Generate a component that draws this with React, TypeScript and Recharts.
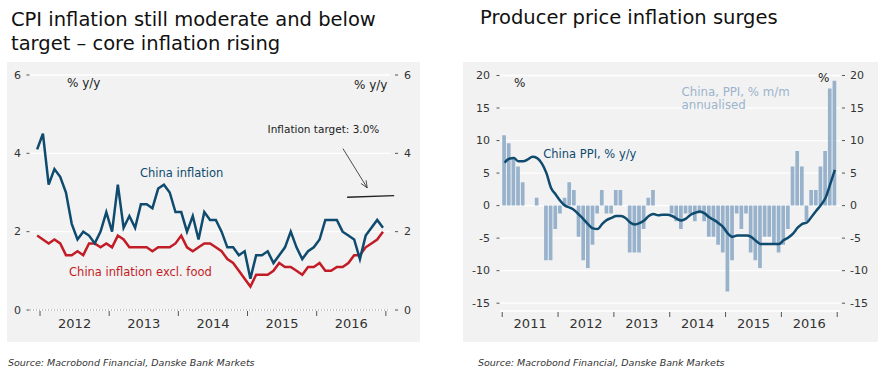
import React from 'react'
import { ComposedChart, Line, Bar, XAxis, YAxis, CartesianGrid, ReferenceLine, ReferenceDot } from 'recharts'

const FONT = '"DejaVu Sans", sans-serif'
const BLUE = '#0f4a6f'
const RED = '#c21c26'
const BAR = '#98b2cc'
const BAR_TEXT = '#9bb4cc'
const BG = '#f2f2f2'
const INK = '#333'

// CPI, % y/y, monthly from Dec 2011 to Dec 2016
const cpiStart = { year: 2011, month: 12 }
const cpiHeadline = [
  4.1,
  4.5, 3.2, 3.6, 3.4, 3.0, 2.2, 1.8, 2.0, 1.9, 1.7, 2.0, 2.5,
  2.0, 3.2, 2.1, 2.4, 2.1, 2.7, 2.7, 2.6, 3.1, 3.2, 3.0, 2.5,
  2.5, 2.0, 2.4, 1.8, 2.5, 2.3, 2.3, 2.0, 1.6, 1.6, 1.4, 1.5,
  0.8, 1.4, 1.4, 1.5, 1.2, 1.4, 1.6, 2.0, 1.6, 1.3, 1.5, 1.6,
  1.8, 2.3, 2.3, 2.3, 2.0, 1.9, 1.8, 1.3, 1.9, 2.1, 2.3, 2.1,
]
const cpiExFood = [
  1.9,
  1.8, 1.7, 1.8, 1.7, 1.4, 1.4, 1.5, 1.4, 1.7, 1.7, 1.6, 1.7,
  1.6, 1.9, 1.8, 1.6, 1.6, 1.6, 1.6, 1.5, 1.6, 1.6, 1.6, 1.7,
  1.9, 1.6, 1.5, 1.6, 1.7, 1.7, 1.6, 1.5, 1.3, 1.2, 1.0, 0.8,
  0.6, 0.9, 0.9, 0.9, 1.0, 1.2, 1.1, 1.1, 1.0, 0.9, 1.1, 1.1,
  1.2, 1.0, 1.0, 1.1, 1.1, 1.2, 1.4, 1.4, 1.6, 1.7, 1.8, 2.0,
]
const cpiYears = [2012, 2013, 2014, 2015, 2016]
const cpiTicks = [0, 2, 4, 6]

// PPI, monthly from Jan 2011 to Dec 2016
const ppiStart = { year: 2011, month: 1 }
const ppiYoy = [
  6.6, 7.2, 7.3, 6.8, 6.8, 7.1, 7.5, 7.3, 6.5, 5.0, 2.7, 1.7,
  0.7, 0.0, -0.3, -0.7, -1.4, -2.1, -2.9, -3.5, -3.6, -2.8, -2.2, -1.9,
  -1.6, -1.6, -1.9, -2.6, -2.9, -2.7, -2.3, -1.6, -1.3, -1.5, -1.4, -1.4,
  -1.6, -2.0, -2.3, -2.0, -1.4, -1.1, -0.9, -1.2, -1.8, -2.2, -2.7, -3.3,
  -4.3, -4.8, -4.6, -4.6, -4.6, -4.8, -5.4, -5.9, -5.9, -5.9, -5.9, -5.9,
  -5.3, -4.9, -4.3, -3.4, -2.8, -2.6, -1.7, -0.8, 0.1, 1.2, 3.3, 5.5,
]
const ppiMomAnnualised = [
  10.8, 9.6, 7.2, 6.0, 3.6, 0, 0, 1.2, 0, -8.4, -8.4, -3.6,
  -1.2, 1.2, 3.6, 2.4, -4.8, -8.4, -9.6, -6.0, -1.2, 2.4, -1.2, -1.2,
  2.4, 2.4, 0, -7.2, -7.2, -7.2, -3.6, 1.2, 2.4, 0, 0, 0,
  -1.2, -2.4, -3.6, -1.2, -1.2, -2.4, -1.2, -2.4, -4.8, -4.8, -6.0, -7.2,
  -13.2, -8.4, -1.2, -3.6, -1.2, -7.2, -8.4, -9.6, -4.8, -4.8, -6.0, -7.2,
  -6.0, -3.6, 6.0, 8.4, 6.0, -2.4, 2.4, 2.4, 6.0, 8.4, 18.0, 19.2,
]
const ppiYears = [2011, 2012, 2013, 2014, 2015, 2016]
const ppiTicks = [-15, -10, -5, 0, 5, 10, 15, 20]

// month -> decimal year, plotted mid-month
const monthPos = (start: { year: number; month: number }, i: number) =>
  start.year + (start.month - 1 + i + 0.5) / 12

const cpiData = cpiHeadline.map((v, i) => ({ t: monthPos(cpiStart, i), cpi: v, core: cpiExFood[i] }))
const ppiData = ppiYoy.map((v, i) => ({ t: monthPos(ppiStart, i), yoy: v, mom: ppiMomAnnualised[i] }))

// year boundaries get a tick mark, mid-years get the label
const yearTicks = (years: number[]) => {
  const out: number[] = []
  years.forEach(y => out.push(y, y + 0.5))
  out.push(years[years.length - 1] + 1)
  return out
}

const YearTick = (offset: number) => (props: any) => {
  const { x, y, payload } = props
  const v = payload.value
  if (Number.isInteger(v)) {
    return <line x1={x} x2={x} y1={y + 1} y2={y + 6} stroke="#555" strokeWidth={1} />
  }
  return (
    <text x={x} y={y + offset} textAnchor="middle" dominantBaseline="central" fontSize={13} fill={INK} fontFamily={FONT}>
      {Math.floor(v)}
    </text>
  )
}

const LeftTick = (gap: number) => (props: any) => {
  const { x, y, payload } = props
  return (
    <g>
      <text x={x - gap} y={y} textAnchor="end" dominantBaseline="central" fontSize={11} fill={INK} fontFamily={FONT}>
        {payload.value}
      </text>
      <line x1={x - 3.5} x2={x - 0.5} y1={y} y2={y} stroke="#555" />
    </g>
  )
}

const RightTick = (dash: number, gap: number) => (props: any) => {
  const { x, y, payload } = props
  return (
    <g>
      <line x1={x + dash} x2={x + dash + 3} y1={y} y2={y} stroke="#555" />
      <text x={x + gap} y={y} textAnchor="start" dominantBaseline="central" fontSize={11} fill={INK} fontFamily={FONT}>
        {payload.value}
      </text>
    </g>
  )
}

const textAt = (lines: string[], color: string, size = 11.5) => (p: any) => (
  <text x={p.cx} y={p.cy} fill={color} fontSize={size} fontFamily={FONT} dominantBaseline="central">
    {lines.map((l, i) => (
      <tspan key={i} x={p.cx} dy={i === 0 ? 0 : 13}>{l}</tspan>
    ))}
  </text>
)

const Arrow = (p: any) => {
  const { x1, y1, x2, y2 } = p
  const a = Math.atan2(y2 - y1, x2 - x1)
  const L = 7
  const W = 3
  const b1x = x2 - L * Math.cos(a) + W * Math.sin(a)
  const b1y = y2 - L * Math.sin(a) - W * Math.cos(a)
  const b2x = x2 - L * Math.cos(a) - W * Math.sin(a)
  const b2y = y2 - L * Math.sin(a) + W * Math.cos(a)
  return (
    <g>
      <line x1={x1} y1={y1} x2={x2} y2={y2} stroke="#222" strokeWidth={0.8} />
      <polyline points={`${b1x},${b1y} ${x2},${y2} ${b2x},${b2y}`} fill="none" stroke="#222" strokeWidth={0.8} />
    </g>
  )
}

function CpiChart() {
  return (
    <ComposedChart width={413} height={280} data={cpiData} margin={{ top: 13, right: 0, bottom: 0, left: 0 }}>
      <CartesianGrid horizontal vertical={false} stroke="#ffffff" strokeWidth={1.3} yAxisId="left" />
      <XAxis
        dataKey="t"
        type="number"
        domain={[2011.855, 2017.06]}
        allowDataOverflow
        ticks={yearTicks(cpiYears)}
        interval={0}
        tickSize={0}
        tickMargin={0}
        tick={YearTick(13)}
        height={32}
        axisLine={{ stroke: '#888', strokeDasharray: '1 2' }}
      />
      <YAxis yAxisId="left" domain={[0, 6]} ticks={cpiTicks} width={23} axisLine={false} tickLine={false} tickSize={0} tickMargin={0} tick={LeftTick(9)} />
      <YAxis yAxisId="right" orientation="right" domain={[0, 6]} ticks={cpiTicks} width={30} axisLine={false} tickLine={false} tickSize={0} tickMargin={0} tick={RightTick(5, 14)} />
      {/* carries the right-hand scale, draws nothing */}
      <Line yAxisId="right" dataKey="cpi" stroke="none" dot={false} activeDot={false} legendType="none" isAnimationActive={false} />
      <Line yAxisId="left" dataKey="core" type="linear" stroke={RED} strokeWidth={2.5} dot={false} isAnimationActive={false} />
      <Line yAxisId="left" dataKey="cpi" type="linear" stroke={BLUE} strokeWidth={2.5} dot={false} isAnimationActive={false} />
      <ReferenceLine yAxisId="left" segment={[{ x: 2016.44, y: 2.88 }, { x: 2017.12, y: 2.92 }]} stroke="#222" strokeWidth={1.4} ifOverflow="visible" />
      <ReferenceLine yAxisId="left" segment={[{ x: 2016.38, y: 4.12 }, { x: 2016.73, y: 3.12 }]} ifOverflow="visible" shape={Arrow} />
      <ReferenceDot yAxisId="left" x={2015.29} y={4.63} ifOverflow="visible" shape={textAt(['Inflation target: 3.0%'], '#222', 10.5)} />
      <ReferenceDot yAxisId="left" x={2013.445} y={3.51} ifOverflow="visible" shape={textAt(['China inflation'], BLUE)} />
      <ReferenceDot yAxisId="left" x={2012.42} y={0.97} ifOverflow="visible" shape={textAt(['China inflation excl. food'], RED)} />
    </ComposedChart>
  )
}

function PpiChart() {
  return (
    <ComposedChart width={415} height={280} data={ppiData} margin={{ top: 13.5, right: 0, bottom: 0, left: 0 }}>
      <CartesianGrid horizontal vertical={false} stroke="#ffffff" strokeWidth={1.3} yAxisId="left" />
      <XAxis
        dataKey="t"
        type="number"
        domain={[2010.96, 2017.05]}
        allowDataOverflow
        ticks={yearTicks(ppiYears)}
        interval={0}
        tickSize={0}
        tickMargin={0}
        tick={YearTick(12.5)}
        height={31}
        axisLine={false}
      />
      <YAxis yAxisId="left" domain={[-16.2, 20]} ticks={ppiTicks} width={37} axisLine={false} tickLine={false} tickSize={0} tickMargin={0} tick={LeftTick(10)} />
      <YAxis yAxisId="right" orientation="right" domain={[-16.2, 20]} ticks={ppiTicks} width={38} axisLine={false} tickLine={false} tickSize={0} tickMargin={0} tick={RightTick(2, 10)} />
      {/* carries the right-hand scale, draws nothing */}
      <Line yAxisId="right" dataKey="yoy" stroke="none" dot={false} activeDot={false} legendType="none" isAnimationActive={false} />
      <Bar yAxisId="left" dataKey="mom" fill={BAR} barSize={3.7} isAnimationActive={false} />
      <Line yAxisId="left" dataKey="yoy" type="monotone" stroke={BLUE} strokeWidth={2.5} dot={false} isAnimationActive={false} />
      <ReferenceDot yAxisId="left" x={2011.735} y={7.94} ifOverflow="visible" shape={textAt(['China PPI, % y/y'], BLUE)} />
      <ReferenceDot yAxisId="left" x={2014.21} y={17.47} ifOverflow="visible" shape={textAt(['China, PPI, % m/m', 'annualised'], BAR_TEXT, 11.8)} />
    </ComposedChart>
  )
}

const abs = (left: number, top: number, extra: React.CSSProperties = {}): React.CSSProperties => ({
  position: 'absolute',
  left,
  top,
  ...extra,
})

export default function App() {
  const title: React.CSSProperties = { fontSize: 19.5, lineHeight: '24px', color: '#111', whiteSpace: 'nowrap' }
  const unit: React.CSSProperties = { fontSize: 12, lineHeight: '14px', color: '#222', whiteSpace: 'nowrap' }
  const source: React.CSSProperties = { fontSize: 9.5, lineHeight: '12px', fontStyle: 'italic', color: '#333', whiteSpace: 'nowrap' }
  return (
    <div style={{ position: 'absolute', left: 0, top: 0, width: 884, height: 391, background: '#fff', fontFamily: FONT }}>
      <div style={abs(11, 8, title)}>
        CPI inflation still moderate and below
        <br />
        target – core inflation rising
      </div>
      <div style={abs(480, 6, title)}>Producer price inflation surges</div>

      <div style={abs(7, 62, { width: 413, height: 280, background: BG })}>
        <CpiChart />
      </div>
      <div style={abs(463, 62, { width: 415, height: 280, background: BG })}>
        <PpiChart />
      </div>

      <div style={abs(67, 76, unit)}>% y/y</div>
      <div style={abs(354, 78, unit)}>% y/y</div>
      <div style={abs(514, 76, unit)}>%</div>
      <div style={abs(818, 71, unit)}>%</div>

      <div style={abs(8, 357, source)}>Source: Macrobond Financial, Danske Bank Markets</div>
      <div style={abs(478, 357, source)}>Source: Macrobond Financial, Danske Bank Markets</div>
    </div>
  )
}
